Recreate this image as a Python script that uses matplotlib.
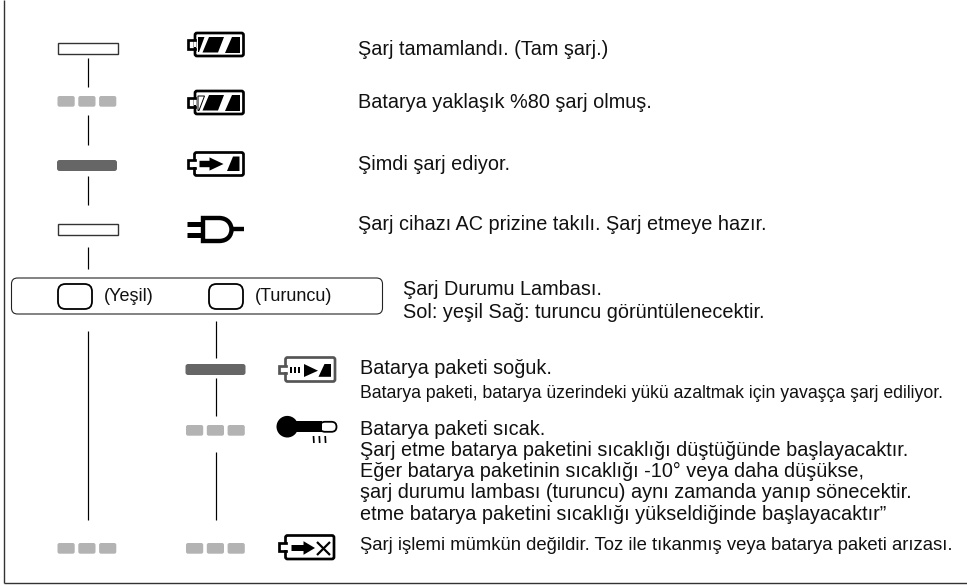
import matplotlib
matplotlib.use("Agg")
import matplotlib.pyplot as plt
from matplotlib.patches import Rectangle, FancyBboxPatch, Polygon, Circle, PathPatch
from matplotlib.path import Path

plt.rcParams['font.family'] = ['Liberation Sans', 'DejaVu Sans']

W, H = 967, 586
BLACK, DARK, MID = "#000000", "#666666", "#b3b3b3"

# texts: (x, baseline y, size pt, string)
status_texts = [
    (358, 55, 14.35, "Şarj tamamlandı. (Tam şarj.)"),
    (358, 108, 14.35, "Batarya yaklaşık %80 şarj olmuş."),
    (358, 169.5, 14.35, "Şimdi şarj ediyor."),
    (358, 230, 14.35, "Şarj cihazı AC prizine takılı. Şarj etmeye hazır."),
    (403, 295, 14.35, "Şarj Durumu Lambası."),
    (403, 318, 14.35, "Sol: yeşil Sağ: turuncu görüntülenecektir."),
    (360, 374, 14.35, "Batarya paketi soğuk."),
    (360, 398, 12.73, "Batarya paketi, batarya üzerindeki yükü azaltmak için yavaşça şarj ediliyor."),
    (360, 435, 14.3, "Batarya paketi sıcak."),
    (360, 456, 14.3, "Şarj etme batarya paketini sıcaklığı düştüğünde başlayacaktır."),
    (360, 477, 14.3, "Eğer batarya paketinin sıcaklığı -10° veya daha düşükse,"),
    (360, 498, 14.3, "şarj durumu lambası (turuncu) aynı zamanda yanıp sönecektir."),
    (360, 520, 14.3, "etme batarya paketini sıcaklığı yükseldiğinde başlayacaktır”"),
    (360, 550, 13.3, "Şarj işlemi mümkün değildir. Toz ile tıkanmış veya batarya paketi arızası."),
]
legend_texts = [(104, 301, "(Yeşil)"), (255, 301, "(Turuncu)")]

# lamp marks
white_bars = [(57, 43), (57, 224)]
dark_bars = [(57, 160), (185.5, 364)]
dash_groups = [(57.5, 96), (186, 425), (57.5, 543), (186, 543)]
# connectors: (x, y0, y1)
connectors = [
    (87.5, 58, 87), (87.5, 115, 145), (87.5, 176, 205), (87.5, 247, 269),
    (87.5, 331, 520), (215.5, 321, 358), (215.5, 378, 416), (215.5, 452, 520),
]

fig = plt.figure(figsize=(W / 100, H / 100), dpi=100)
ax = fig.add_axes([0, 0, 1, 1])
ax.set_xlim(0, W)
ax.set_ylim(H, 0)
ax.axis("off")


def seg(x0, y0, x1, y1, lw=1.0, color=BLACK, cap="butt"):
    ax.plot([x0, x1], [y0, y1], color=color, lw=lw * 0.72, solid_capstyle=cap, zorder=3)


def rrect(x, y, w, h, r, fc="white", ec="none", lw=1.0, z=2):
    ax.add_patch(FancyBboxPatch((x + r, y + r), w - 2 * r, h - 2 * r,
                                boxstyle=f"round,pad={r},rounding_size={r}",
                                fc=fc, ec=ec, lw=lw * 0.72, zorder=z))


def poly(pts, fc=BLACK, ec="none", lw=0.0):
    ax.add_patch(Polygon(pts, closed=True, fc=fc, ec=ec, lw=lw * 0.72, zorder=4))


def battery(x0, x1, y0, y1, ty0, ty1, lw=2.7, color=BLACK):
    tx = x0 - 7
    rrect(x0, y0, x1 - x0, y1 - y0, 2, ec=color, lw=lw, z=3)
    ax.plot([x0, tx, tx, x0], [ty0, ty0, ty1, ty1], color=color, lw=lw * 0.72,
            solid_joinstyle="miter", zorder=5)
    ax.add_patch(Rectangle((x0 - 1.4, ty0 + 1.3), 2.8, ty1 - ty0 - 2.6, fc="white", ec="none", zorder=4))


def arrow(x0, xh, x1, yc, hs, hh):
    poly([(x0, yc - hs), (xh, yc - hs), (xh, yc - hh), (x1, yc), (xh, yc + hh), (xh, yc + hs), (x0, yc + hs)])


# frame
seg(3.7, 0, 3.7, 582.5, 1.4, "#333333")
seg(3.7, 582.5, W, 582.5, 1.4, "#333333")

# connectors
for x, y0, y1 in connectors:
    seg(x, y0, x, y1, 1.2)

# lamps
for x, y in white_bars:
    ax.add_patch(Rectangle((x + 0.5, y), 60.5, 10.5, fc="white", ec="#333333", lw=1.0, zorder=3))
for x, y in dark_bars:
    rrect(x, y, 60, 11, 2.5, fc=DARK)
for x, y in dash_groups:
    for dx in (0, 20.8, 41.6):
        rrect(x + dx, y, 17.2, 10.7, 2, fc=MID)

# legend panel
rrect(11.5, 278, 371, 36, 6, ec="#222222", lw=1.1)
for x in (58, 209):
    rrect(x, 284, 34, 25, 7.5, ec=BLACK, lw=1.8, z=3)
for x, y, s in legend_texts:
    ax.text(x, y, s, fontsize=13, va="baseline", ha="left", color="#111111", zorder=6)

# full battery
battery(195, 243.5, 33, 56, 39.5, 48.5)
poly([(198, 37), (204.5, 37), (199, 52), (198, 52)])
poly([(209, 37), (224, 37), (218, 52.5), (202.5, 52.5)])
poly([(231.5, 37), (240, 37), (240, 52.5), (225, 52.5)])

# 80 % battery
battery(195, 243.5, 91, 114, 97.5, 106.5)
poly([(198, 96), (204.5, 96), (199, 110.5), (198, 110.5)], fc="white", ec=BLACK, lw=1.0)
poly([(209, 95), (224, 95), (218, 110.5), (202.5, 110.5)])
poly([(231.5, 95), (240, 95), (240, 110.5), (225, 110.5)])

# charging battery
battery(194.5, 243.5, 152.5, 175.5, 160, 168)
arrow(199.5, 209.5, 223.5, 164, 3.2, 6.6)
poly([(227, 171), (233, 156.5), (239.5, 156.5), (239.5, 171)])

# plug
plug = Path(
    [(203, 218), (219, 218), (228, 218), (231.5, 224.5), (231.5, 229.5),
     (231.5, 235), (228, 241), (219, 241), (203, 241), (203, 218)],
    [Path.MOVETO, Path.LINETO, Path.CURVE4, Path.CURVE4, Path.CURVE4,
     Path.CURVE4, Path.CURVE4, Path.CURVE4, Path.LINETO, Path.CLOSEPOLY])
ax.add_patch(PathPatch(plug, fc="white", ec=BLACK, lw=4.4 * 0.72, zorder=4))
seg(186.5, 224, 203, 224, 5.0)
seg(186.5, 234.5, 203, 234.5, 5.0)
seg(232, 229, 244, 229, 4.4)

# cold battery
battery(285.5, 335, 357.5, 381.5, 366, 373, color="#555555")
for x in (289.5, 293.5, 297.5):
    ax.add_patch(Rectangle((x, 367), 2.2, 6, fc=BLACK, ec="none", zorder=4))
poly([(304, 364), (304, 377), (318, 370.7)])
poly([(318.5, 376.8), (324.5, 364), (331, 364), (331, 376.8)])

# thermometer
ax.add_patch(Circle((287.3, 426.7), 10.8, fc=BLACK, ec="none", zorder=4))
rrect(320, 421.8, 16.5, 10, 5, ec=BLACK, lw=1.8, z=3)
ax.add_patch(Rectangle((287, 421.2), 35, 11, fc=BLACK, ec="none", zorder=4))
for x in (313.5, 319.3, 325.2):
    seg(x, 436, x + 0.4, 443, 1.7)

# no-charge battery
battery(285.5, 334, 535.5, 559, 543, 551)
arrow(291.5, 303.5, 315, 548, 3.0, 6.8)
seg(317, 542, 330, 555, 2.2)
seg(317, 555, 330, 542, 2.2)

# descriptions
for x, y, size, s in status_texts:
    ax.text(x, y, s, fontsize=size, va="baseline", ha="left", color="#111111", zorder=6)

fig.savefig("out.png", dpi=100, facecolor="white")
